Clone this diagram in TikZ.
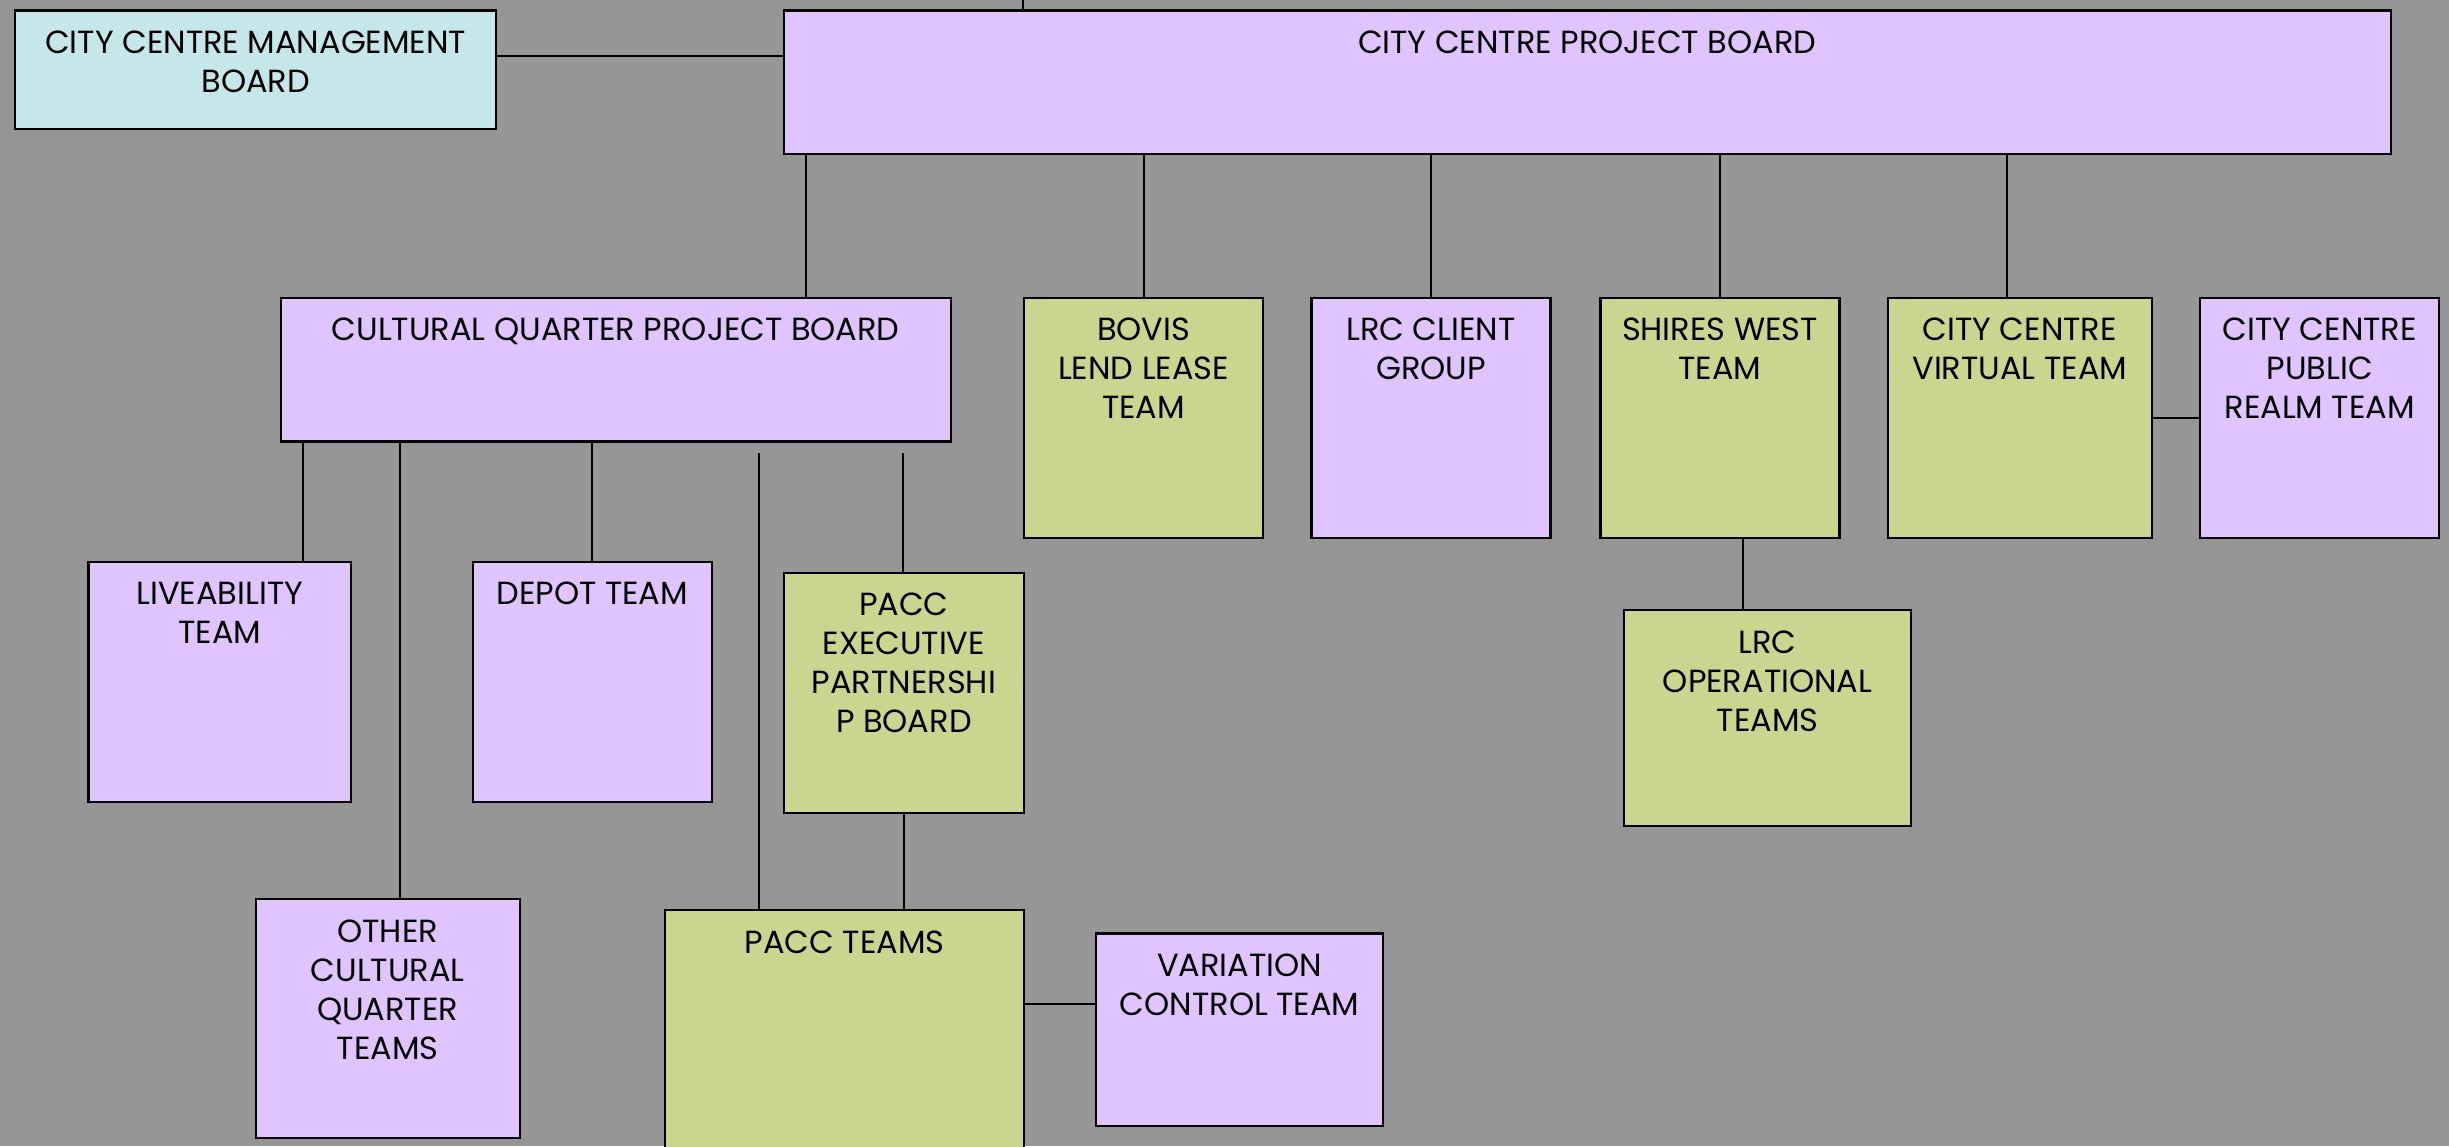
\documentclass[tikz,border=0pt]{standalone}
\usepackage{fontspec}
\setmainfont{Poppins}
\definecolor{bg}{RGB}{150,150,150}
\definecolor{purp}{RGB}{224,196,255}
\definecolor{grn}{RGB}{203,213,144}
\definecolor{blu}{RGB}{198,231,233}
\newcommand{\bxt}[3]{\parbox[t][#2][t]{#1}{\centering\fontsize{20.5}{25}\selectfont\rule{0pt}{27.5pt}#3}}
\tikzset{
  orgbox/.style={draw=black, line width=1.4pt, inner sep=0pt, anchor=north west},
  conn/.style={draw=black, line width=1.2pt},
}
\begin{document}
\begin{tikzpicture}[x=1pt,y=-1pt]
\fill[bg] (0,0) rectangle (1568,734);
\useasboundingbox (0,0) rectangle (1568,734);
\begin{scope}
\clip (0,0) rectangle (1568,734);
\node[orgbox, fill=blu] (ccmb) at (9,6) {\bxt{308pt}{76pt}{CITY CENTRE MANAGEMENT\\BOARD}};
\node[orgbox, fill=purp] (ccpb) at (501,6) {\bxt{1029pt}{92pt}{CITY CENTRE PROJECT BOARD}};
\node[orgbox, fill=purp] (cqpb) at (179,190) {\bxt{429pt}{92pt}{CULTURAL QUARTER PROJECT BOARD}};
\node[orgbox, fill=grn] (bovis) at (655,190) {\bxt{153pt}{154pt}{BOVIS\\LEND LEASE\\TEAM}};
\node[orgbox, fill=purp] (lrccg) at (839,190) {\bxt{153pt}{154pt}{LRC CLIENT\\GROUP}};
\node[orgbox, fill=grn] (shires) at (1024,190) {\bxt{153pt}{154pt}{SHIRES WEST\\TEAM}};
\node[orgbox, fill=grn] (ccvt) at (1208,190) {\bxt{169pt}{154pt}{CITY CENTRE\\VIRTUAL TEAM}};
\node[orgbox, fill=purp] (ccprt) at (1408,190) {\bxt{153pt}{154pt}{CITY CENTRE\\PUBLIC\\REALM TEAM}};
\node[orgbox, fill=purp] (live) at (56,359) {\bxt{168pt}{154pt}{LIVEABILITY\\TEAM}};
\node[orgbox, fill=purp] (depot) at (302,359) {\bxt{153pt}{154pt}{DEPOT TEAM}};
\node[orgbox, fill=grn] (paccx) at (501,366) {\bxt{154pt}{154pt}{PACC\\EXECUTIVE\\PARTNERSHI\\P BOARD}};
\node[orgbox, fill=grn] (lrcop) at (1039,390) {\bxt{184pt}{138pt}{LRC\\OPERATIONAL\\TEAMS}};
\node[orgbox, fill=purp] (other) at (163,575) {\bxt{169pt}{153pt}{OTHER\\CULTURAL\\QUARTER\\TEAMS}};
\node[orgbox, fill=grn] (pacct) at (425,582) {\bxt{230pt}{170pt}{PACC TEAMS}};
\node[orgbox, fill=purp] (vct) at (701,597) {\bxt{184pt}{123pt}{VARIATION\\CONTROL TEAM}};

\coordinate (topend) at (655,0);
\draw[conn] (topend) -- (topend |- ccpb.north);
\draw[conn] ([yshift=-30pt]ccmb.north east) -- ([yshift=-30pt]ccpb.north west);
\draw[conn] ([xshift=337pt]cqpb.north west) -- ([xshift=337pt]cqpb.north west |- ccpb.south);
\draw[conn] (bovis.north) -- (bovis.north |- ccpb.south);
\draw[conn] (lrccg.north) -- (lrccg.north |- ccpb.south);
\draw[conn] (shires.north) -- (shires.north |- ccpb.south);
\draw[conn] ([xshift=77pt]ccvt.north west) -- ([xshift=77pt]ccvt.north west |- ccpb.south);
\draw[conn] (ccvt.east) -- (ccprt.west);
\draw[conn] ([xshift=138pt]live.north west) -- ([xshift=138pt]live.north west |- cqpb.south);
\draw[conn] ([xshift=93pt]other.north west) -- ([xshift=93pt]other.north west |- cqpb.south);
\draw[conn] (depot.north) -- (depot.north |- cqpb.south);
\coordinate (freeA) at (486,290);
\coordinate (freeB) at (578,290);
\draw[conn] (freeA) -- (freeA |- pacct.north);
\draw[conn] (freeB) -- (freeB |- paccx.north);
\draw[conn] (paccx.south) -- (paccx.south |- pacct.north);
\draw[conn] ([yshift=-46pt]vct.north west) -- ([yshift=-46pt]vct.north west -| pacct.east);
\draw[conn] ([xshift=77pt]lrcop.north west) -- ([xshift=77pt]lrcop.north west |- shires.south);
\end{scope}
\end{tikzpicture}
\end{document}
